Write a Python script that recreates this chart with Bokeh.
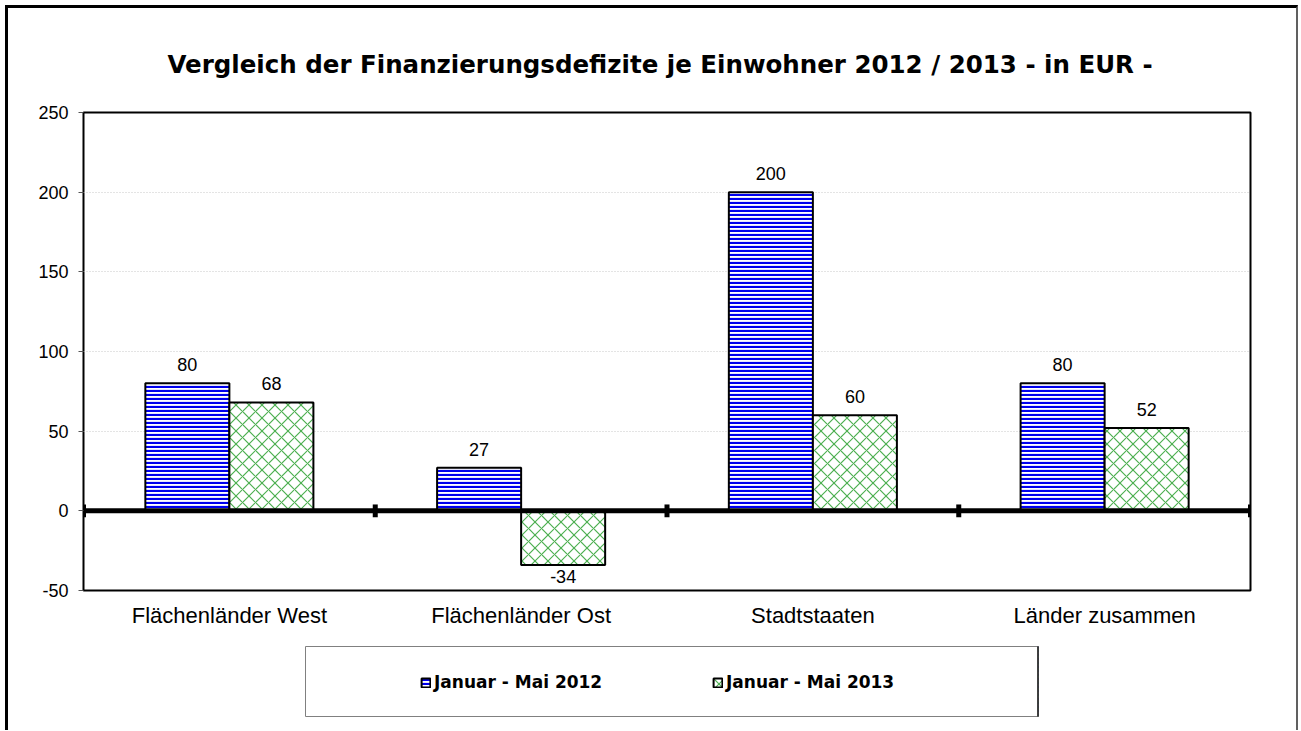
from bokeh.plotting import figure
from bokeh.layouts import column
from bokeh.models import (ColumnDataSource, FactorRange, Range1d, Span,
                          Legend, LegendItem, FixedTicker)
from bokeh.transform import dodge
from bokeh.embed import file_html
from bokeh.resources import INLINE
from bokeh.core.properties import value

FONT = "Liberation Sans"
BOLD_FONT = "DejaVu Sans"

title_text = "Vergleich der Finanzierungsdefizite je Einwohner 2012 / 2013 - in EUR -"
categories = ["Flächenländer West", "Flächenländer Ost", "Stadtstaaten", "Länder zusammen"]
series_names = ["Januar - Mai 2012", "Januar - Mai 2013"]
values_2012 = [80, 27, 200, 80]
values_2013 = [68, -34, 60, 52]
y_ticks = [-50, 0, 50, 100, 150, 200, 250]

BLUE_STYLE = dict(fill_color="white", line_color="black", line_width=2,
                  hatch_pattern="horizontal_line", hatch_color="#0000ee",
                  hatch_scale=4, hatch_weight=2.2)
GREEN_STYLE = dict(fill_color="white", line_color="black", line_width=2,
                   hatch_pattern="diagonal_cross", hatch_color="#4caf50",
                   hatch_scale=13, hatch_weight=1.2)

CW = 1288
p = figure(x_range=FactorRange(*categories, range_padding=0), y_range=(-50, 250),
           width=CW, height=632, output_backend="svg", toolbar_location=None,
           min_border_left=75, min_border_right=46, min_border_top=104, min_border_bottom=50,
           frame_align=False)
p.background_fill_color = "white"
p.border_fill_color = "white"
p.outline_line_color = "black"
p.outline_line_width = 2

p.title.text = title_text
p.title.align = "left"
p.title.text_font = BOLD_FONT
p.title.text_font_style = "bold"
p.title.text_font_size = "24.5px"
p.title.text_color = "black"
p.title.offset = 84
p.title.standoff = 68

# grid
p.xgrid.grid_line_color = None
p.ygrid.grid_line_color = "#c8c8c8"
p.ygrid.grid_line_dash = "1 2"
p.ygrid.grid_line_width = 1

# y axis
p.yaxis.ticker = FixedTicker(ticks=y_ticks)
p.yaxis.major_label_overrides = {t: str(t) for t in y_ticks}
p.yaxis.axis_line_color = None
p.yaxis.major_tick_line_color = "#555555"
p.yaxis.major_tick_out = 5
p.yaxis.major_tick_in = 0
p.yaxis.minor_tick_line_color = None
p.yaxis.major_label_text_font = FONT
p.yaxis.major_label_text_font_size = "18px"
p.yaxis.major_label_text_color = "black"
p.yaxis.major_label_standoff = 10

# x axis
p.xaxis.axis_line_color = None
p.xaxis.major_tick_line_color = None
p.xaxis.minor_tick_line_color = None
p.xaxis.major_label_text_font = FONT
p.xaxis.major_label_text_font_size = "22px"
p.xaxis.major_label_text_color = "black"
p.xaxis.major_label_standoff = 6

bar_w = 0.288
src = ColumnDataSource(dict(cat=categories, v12=values_2012, v13=values_2013))

p.vbar(x=dodge("cat", -bar_w / 2, range=p.x_range), top="v12", bottom=0, width=bar_w,
       source=src, **BLUE_STYLE)
p.vbar(x=dodge("cat", bar_w / 2, range=p.x_range), top="v13", bottom=0, width=bar_w,
       source=src, **GREEN_STYLE)

# zero line and category boundary ticks
p.add_layout(Span(location=0, dimension="width", line_color="black", line_width=5))
bounds = list(range(len(categories) + 1))
p.segment(x0=bounds, x1=bounds, y0=[-4] * len(bounds), y1=[4] * len(bounds),
          line_color="black", line_width=5)

# value labels
def label_src(vals):
    return ColumnDataSource(dict(
        cat=categories, y=vals, t=[str(v) for v in vals],
        base=["bottom" if v >= 0 else "top" for v in vals],
        yo=[-12 if v >= 0 else 5 for v in vals]))

for vals, off in ((values_2012, -bar_w / 2), (values_2013, bar_w / 2)):
    p.text(x=dodge("cat", off, range=p.x_range), y="y", text="t", source=label_src(vals),
           text_align="center", text_baseline="base", y_offset="yo",
           text_font=value(FONT), text_font_size="18px", text_color="black")

# legend panel
pl = figure(x_range=Range1d(0, 1), y_range=Range1d(0, 1), width=CW, height=90,
            output_backend="svg", toolbar_location=None,
            x_axis_location=None, y_axis_location=None, frame_align=False,
            min_border_left=297, min_border_right=258, min_border_top=6, min_border_bottom=14)
pl.grid.visible = False
pl.outline_line_color = "#808080"
pl.outline_line_width = 1
pl.background_fill_color = "white"
pl.border_fill_color = "white"
# legend-sample renderers, placed outside the visible range
offscreen = ColumnDataSource(dict(x=[5], top=[5]))
lr12 = pl.vbar(x="x", top="top", width=0.1, source=offscreen, **BLUE_STYLE)
lr13 = pl.vbar(x="x", top="top", width=0.1, source=offscreen, **GREEN_STYLE)
legend = Legend(items=[LegendItem(label=series_names[0], renderers=[lr12]),
                       LegendItem(label=series_names[1], renderers=[lr13])],
                location=(115, 24), orientation="horizontal",
                glyph_width=11, glyph_height=11, label_standoff=3, label_width=260, spacing=18,
                padding=0, margin=0, border_line_alpha=0, background_fill_alpha=0,
                label_text_font=BOLD_FONT, label_text_font_size="17px",
                label_text_font_style="bold", label_text_color="black")
pl.add_layout(legend, "center")

layout = column(p, pl, spacing=0,
                styles={"margin-left": "5px", "margin-top": "5px",
                        "border-left": "3px solid black", "border-top": "3px solid black",
                        "border-right": "2px solid #606060"})

open("out.html", "w").write(file_html(layout, INLINE))
